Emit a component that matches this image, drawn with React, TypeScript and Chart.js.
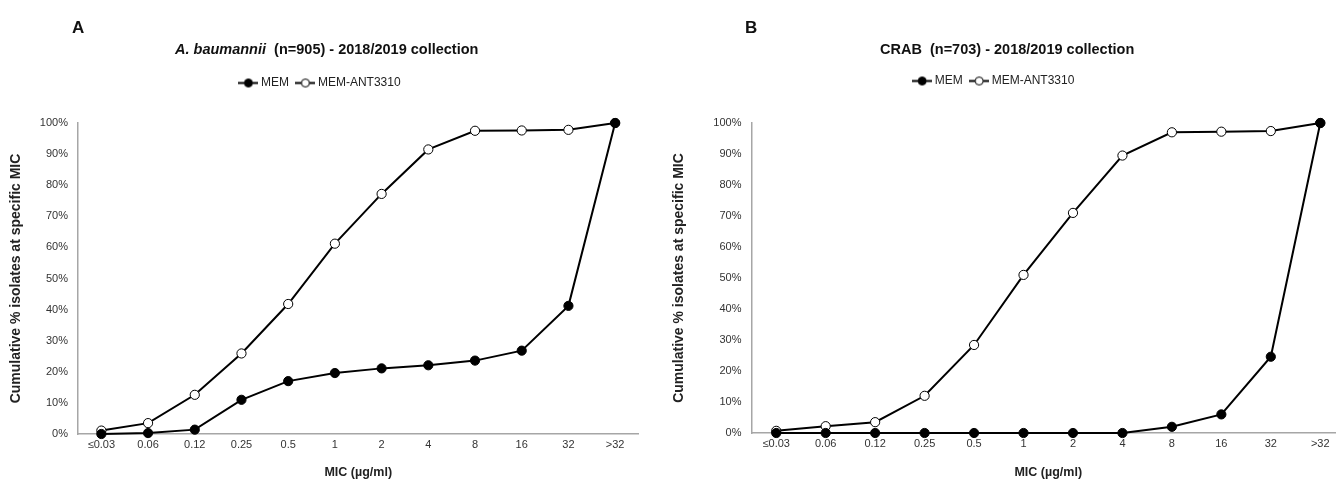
import React, { useEffect, useRef } from 'react';
import { Chart, registerables, layouts } from 'chart.js';

Chart.register(...registerables);

const FONT = "'Liberation Sans', Arial, Helvetica, sans-serif";

// ---- data ----
const MIC_LABELS = ['≤0.03', '0.06', '0.12', '0.25', '0.5', '1', '2', '4', '8', '16', '32', '>32'];
const SERIES_NAMES = ['MEM', 'MEM-ANT3310'];
const A_MEM = [0, 0.3, 1.4, 11.0, 17.0, 19.6, 21.1, 22.1, 23.6, 26.8, 41.2, 100];
const A_ANT = [1.1, 3.5, 12.6, 25.9, 41.8, 61.2, 77.2, 91.5, 97.5, 97.6, 97.8, 100];
const B_MEM = [0, 0, 0, 0, 0, 0, 0, 0, 2.0, 6.0, 24.6, 100];
const B_ANT = [0.7, 2.2, 3.5, 12.0, 28.4, 51.0, 71.0, 89.5, 97.0, 97.2, 97.4, 100];
const Y_TICK_STEP = 10;
const Y_TITLE = 'Cumulative % isolates at specific MIC';
const X_TITLE = 'MIC (µg/ml)';

function makeMarker(filled: boolean): HTMLCanvasElement {
  const c = document.createElement('canvas');
  c.width = 20;
  c.height = 11;
  const ctx = c.getContext('2d')!;
  ctx.strokeStyle = '#000';
  ctx.lineWidth = 2;
  ctx.beginPath();
  ctx.moveTo(0, 5.5);
  ctx.lineTo(20, 5.5);
  ctx.stroke();
  ctx.beginPath();
  ctx.arc(10, 5.5, 4, 0, Math.PI * 2);
  ctx.fillStyle = filled ? '#000' : '#fff';
  ctx.fill();
  ctx.lineWidth = 1;
  ctx.stroke();
  return c;
}

function spacerPlugin(h: number) {
  return {
    id: 'legendSpacer',
    beforeInit(chart: any) {
      const box: any = {
        position: 'top',
        weight: 100,
        fullSize: true,
        options: { stackWeight: 1 },
        left: 0, top: 0, right: 0, bottom: 0, width: 0, height: 0,
        isHorizontal: () => true,
        update(maxWidth: number) {
          box.width = maxWidth;
          box.height = h;
          return { width: maxWidth, height: h };
        },
        getPadding: () => ({ top: 0, bottom: 0, left: 0, right: 0 }),
        draw() {},
      };
      layouts.addBox(chart, box);
    },
  };
}

type PanelProps = {
  mem: number[];
  ant: number[];
  left: number;
  width: number;
  padL: number;
  padR: number;
  padTop: number;
  spacer: number;
  yWidth: number;
  yTitlePad: number;
  xHeight: number;
};

function Panel(p: PanelProps) {
  const ref = useRef<HTMLCanvasElement>(null);
  useEffect(() => {
    const markers = [makeMarker(true), makeMarker(false)];
    const chart = new Chart(ref.current!, {
      type: 'line',
      data: {
        labels: MIC_LABELS,
        datasets: [
          {
            label: SERIES_NAMES[0],
            data: p.mem,
            borderColor: '#000',
            borderWidth: 2,
            pointRadius: 4.6,
            pointBorderWidth: 1,
            pointBackgroundColor: '#000',
            pointBorderColor: '#000',
            tension: 0,
            clip: false,
          },
          {
            label: SERIES_NAMES[1],
            data: p.ant,
            borderColor: '#000',
            borderWidth: 2,
            pointRadius: 4.6,
            pointBorderWidth: 1,
            pointBackgroundColor: '#fff',
            pointBorderColor: '#000',
            tension: 0,
            clip: false,
          },
        ],
      },
      options: {
        responsive: false,
        animation: false,
        layout: { autoPadding: false, padding: { left: p.padL, right: p.padR, top: p.padTop, bottom: 0 } },
        plugins: {
          tooltip: { enabled: false },
          title: { display: false },
          legend: {
            display: true,
            position: 'top',
            align: 'center',
            labels: {
              usePointStyle: true,
              pointStyleWidth: 13,
              padding: 10,
              color: '#222',
              font: { family: FONT, size: 12 },
              generateLabels: (ch: any) => {
                const items = (Chart.defaults.plugins.legend.labels as any).generateLabels(ch);
                items.forEach((it: any, i: number) => {
                  it.pointStyle = markers[i];
                });
                return items;
              },
            },
          },
        },
        scales: {
          x: {
            type: 'category',
            offset: true,
            grid: { display: false, drawTicks: false },
            border: { display: true, color: '#a6a6a6', width: 1.5 },
            ticks: { padding: 4.5, color: '#333', font: { family: FONT, size: 11 }, maxRotation: 0, autoSkip: false },
            title: {
              display: true,
              text: X_TITLE,
              color: '#222',
              font: { family: FONT, size: 12.5, weight: 'bold' },
              padding: { top: 0, bottom: 0 },
            },
            afterFit: (s: any) => {
              s.height = p.xHeight;
            },
          },
          y: {
            min: 0,
            max: 100,
            grid: { display: false, drawTicks: false },
            border: { display: true, color: '#a6a6a6', width: 1.5 },
            ticks: {
              stepSize: Y_TICK_STEP,
              padding: 10,
              color: '#333',
              font: { family: FONT, size: 11 },
              callback: (v: any) => v + '%',
            },
            title: {
              display: true,
              text: Y_TITLE,
              color: '#222',
              font: { family: FONT, size: 14, weight: 'bold' },
              padding: { top: p.yTitlePad, bottom: 0 },
            },
            afterFit: (s: any) => {
              s.width = p.yWidth;
            },
          },
        },
      },
      plugins: [spacerPlugin(p.spacer)],
    } as any);
    return () => chart.destroy();
  }, []);
  return (
    <canvas
      ref={ref}
      width={p.width}
      height={480}
      style={{ position: 'absolute', left: p.left, top: 0, width: p.width, height: 480, display: 'block' }}
    />
  );
}

const textBase: React.CSSProperties = {
  position: 'absolute',
  fontFamily: FONT,
  fontWeight: 'bold',
  color: '#111',
  whiteSpace: 'nowrap',
  lineHeight: 1,
};

export default function App() {
  return (
    <div
      style={{
        position: 'absolute',
        left: 0,
        top: 0,
        width: 1336,
        height: 480,
        overflow: 'hidden',
        background: '#fff',
      }}
    >
      <Panel mem={A_MEM} ant={A_ANT} left={0} width={643} padL={4} padR={4.5} padTop={67} spacer={24} yWidth={74} yTitlePad={3.6} xHeight={46} />
      <Panel mem={B_MEM} ant={B_ANT} left={645} width={700} padL={0} padR={0} padTop={65} spacer={26} yWidth={106.5} yTitlePad={25.6} xHeight={47} />
      <div style={{ ...textBase, left: 72, top: 19, fontSize: 17 }}>A</div>
      <div style={{ ...textBase, left: 745, top: 19, fontSize: 17 }}>B</div>
      <div style={{ ...textBase, left: 175, top: 42, fontSize: 14.5 }}>
        <i>A. baumannii</i>&nbsp; (n=905) - 2018/2019 collection
      </div>
      <div style={{ ...textBase, left: 880, top: 42, fontSize: 14.5 }}>
        CRAB&nbsp; (n=703) - 2018/2019 collection
      </div>
    </div>
  );
}
